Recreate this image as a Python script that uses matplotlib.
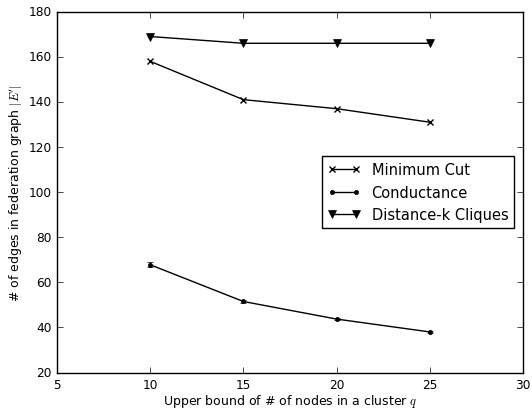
import numpy as np
import matplotlib
matplotlib.use("Agg")
import matplotlib.pyplot as plt

plt.style.use("classic")

# cluster size bound q
q = [10, 15, 20, 25]

# edges in federation graph
min_cut = [158, 141, 137, 131]
conductance = [67.8, 51.5, 43.7, 38.0]
conductance_err = [1.0, 0.6, 0.6, 0.5]
distance_k = [169, 166, 166, 166]


def main():
    fig = plt.figure(figsize=(5.32, 4.10), dpi=100, facecolor="white")
    ax = fig.add_axes([0.107, 0.089, 0.876, 0.880])

    ax.plot(q, min_cut, color="black", marker="x", markersize=4.5,
            mew=1.0, label="Minimum Cut")
    # error bars drawn separately so the legend shows a plain line
    ax.errorbar(q, conductance, yerr=conductance_err, color="black",
                fmt="none", capsize=2, elinewidth=1)
    ax.plot(q, conductance, color="black", marker=".", markersize=6,
            label="Conductance")
    ax.plot(q, distance_k, color="black", marker="v", markersize=5.5,
            label="Distance-k Cliques")

    ax.set_xlim(5, 30)
    ax.set_ylim(20, 180)
    ax.tick_params(labelsize=8.7)
    ax.set_xlabel("Upper bound of # of nodes in a cluster $q$", fontsize=9,
                  labelpad=1)
    ax.set_ylabel("# of edges in federation graph $|E^{\\prime}|$",
                  fontsize=9)
    ax.yaxis.set_label_coords(-0.068, 0.5)

    ax.legend(loc="center right", fontsize=10.5, numpoints=2,
              handlelength=2.2, handletextpad=0.8,
              bbox_to_anchor=(1.0, 0.5), borderaxespad=0.6)

    fig.savefig("out.png", dpi=100, facecolor="white")


if __name__ == "__main__":
    main()
